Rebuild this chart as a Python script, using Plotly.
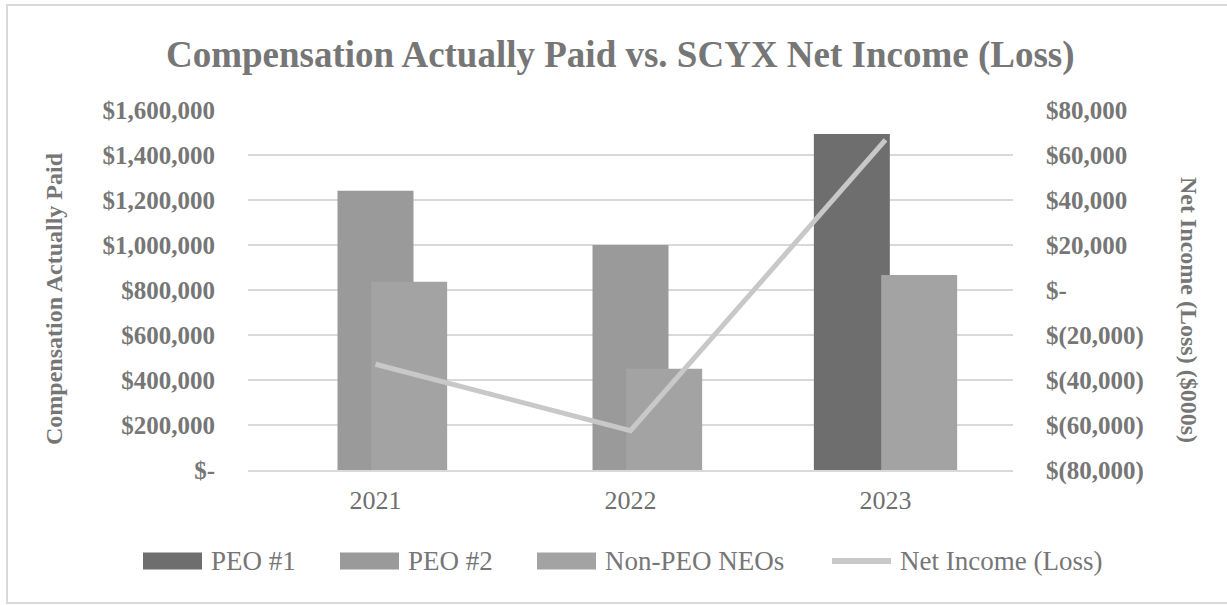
import plotly.graph_objects as go

years = ["2021", "2022", "2023"]
peo1 = [0, 0, 1493000]
peo2 = [1241000, 1000000, 0]
non_peo = [837000, 450000, 867000]
net_income = [-33000, -62500, 66700]

left_ticks = [0, 200000, 400000, 600000, 800000, 1000000, 1200000, 1400000, 1600000]
left_text = ["$-", "$200,000", "$400,000", "$600,000", "$800,000", "$1,000,000",
             "$1,200,000", "$1,400,000", "$1,600,000"]
right_ticks = [-80000, -60000, -40000, -20000, 0, 20000, 40000, 60000, 80000]
right_text = ["$(80,000)", "$(60,000)", "$(40,000)", "$(20,000)", "$-", "$20,000",
              "$40,000", "$60,000", "$80,000"]

FONT = "Liberation Serif"
TXT = "#767676"
c_peo1, c_peo2, c_non, c_line = "#6e6e6e", "#9a9a9a", "#a3a3a3", "#c8c8c8"

W = 0.298
fig = go.Figure()
fig.add_trace(go.Bar(x=years, y=peo1, name="PEO #1", width=W, offset=-0.281,
                     marker=dict(color=c_peo1, line=dict(width=0))))
fig.add_trace(go.Bar(x=years, y=peo2, name="PEO #2", width=W, offset=-0.149,
                     marker=dict(color=c_peo2, line=dict(width=0))))
fig.add_trace(go.Bar(x=years, y=non_peo, name="Non-PEO NEOs", width=W, offset=-0.017,
                     marker=dict(color=c_non, line=dict(width=0))))
fig.add_trace(go.Scatter(x=years, y=net_income, name="Net Income (Loss)", yaxis="y2",
                         mode="lines", line=dict(color=c_line, width=5)))

L, R, T, B = 248, 1013, 110, 470
PW, PH = R - L, B - T


def px(x):
    return (x - L) / PW


def py(y):
    return (B - y) / PH


fig.update_layout(
    width=1227, height=605,
    margin=dict(l=L, r=1227 - R, t=T, b=605 - B),
    paper_bgcolor="white", plot_bgcolor="white",
    barmode="overlay", showlegend=False,
    font=dict(family=FONT, color=TXT),
    xaxis=dict(type="category", categoryorder="array", categoryarray=years,
               showline=True, linecolor="#d9d9d9", linewidth=2, showgrid=False,
               ticks="", tickfont=dict(size=26, family=FONT, color="#6f6f6f"),
               ticklabelstandoff=6),
    yaxis=dict(range=[0, 1600000], tickvals=left_ticks,
               ticktext=["<b>%s</b>" % t for t in left_text],
               showgrid=True, gridcolor="#d9d9d9", gridwidth=2, zeroline=False,
               ticks="", tickfont=dict(size=25, family=FONT, color=TXT),
               ticklabelstandoff=32, fixedrange=True),
    yaxis2=dict(range=[-80000, 80000], tickvals=right_ticks,
                ticktext=["<b>%s</b>" % t for t in right_text],
                overlaying="y", side="right", showgrid=False, zeroline=False,
                ticks="", tickfont=dict(size=25, family=FONT, color=TXT),
                ticklabelstandoff=32),
)

# Outer chart border
fig.add_shape(type="rect", xref="paper", yref="paper",
              x0=px(7), x1=px(1235), y0=py(603), y1=py(5),
              line=dict(color="#d9d9d9", width=2), fillcolor="rgba(0,0,0,0)", layer="below")

# Title
fig.add_annotation(text="<b>Compensation Actually Paid vs. SCYX Net Income (Loss)</b>",
                   xref="paper", yref="paper", x=px(620), y=py(55), showarrow=False,
                   font=dict(size=37, family=FONT, color=TXT), xanchor="center", yanchor="middle")
# Axis titles
fig.add_annotation(text="<b>Compensation Actually Paid</b>", xref="paper", yref="paper",
                   x=px(54), y=py(299), showarrow=False, textangle=-90,
                   font=dict(size=24, family=FONT, color=TXT), xanchor="center", yanchor="middle")
fig.add_annotation(text="<b>Net Income (Loss) ($000s)</b>", xref="paper", yref="paper",
                   x=px(1189), y=py(310), showarrow=False, textangle=90,
                   font=dict(size=24, family=FONT, color=TXT), xanchor="center", yanchor="middle")

# Custom legend
LY = 561
legend_items = [("PEO #1", c_peo1, 143, "bar"), ("PEO #2", c_peo2, 340, "bar"),
                ("Non-PEO NEOs", c_non, 537, "bar"), ("Net Income (Loss)", c_line, 829, "line")]
for name, col, x0, kind in legend_items:
    if kind == "bar":
        fig.add_shape(type="rect", xref="paper", yref="paper",
                      x0=px(x0), x1=px(x0 + 59), y0=py(LY + 8.5), y1=py(LY - 8.5),
                      fillcolor=col, line=dict(width=0))
        tx = x0 + 66
    else:
        fig.add_shape(type="line", xref="paper", yref="paper",
                      x0=px(x0 + 3), x1=px(x0 + 62), y0=py(LY), y1=py(LY),
                      line=dict(color=col, width=6))
        tx = x0 + 69
    fig.add_annotation(text=name, xref="paper", yref="paper", x=px(tx), y=py(LY),
                       showarrow=False, xanchor="left", yanchor="middle",
                       font=dict(size=27, family=FONT, color=TXT))

fig.write_html("out.html", config={"displayModeBar": False},
               post_script="document.body.style.margin='0';")
